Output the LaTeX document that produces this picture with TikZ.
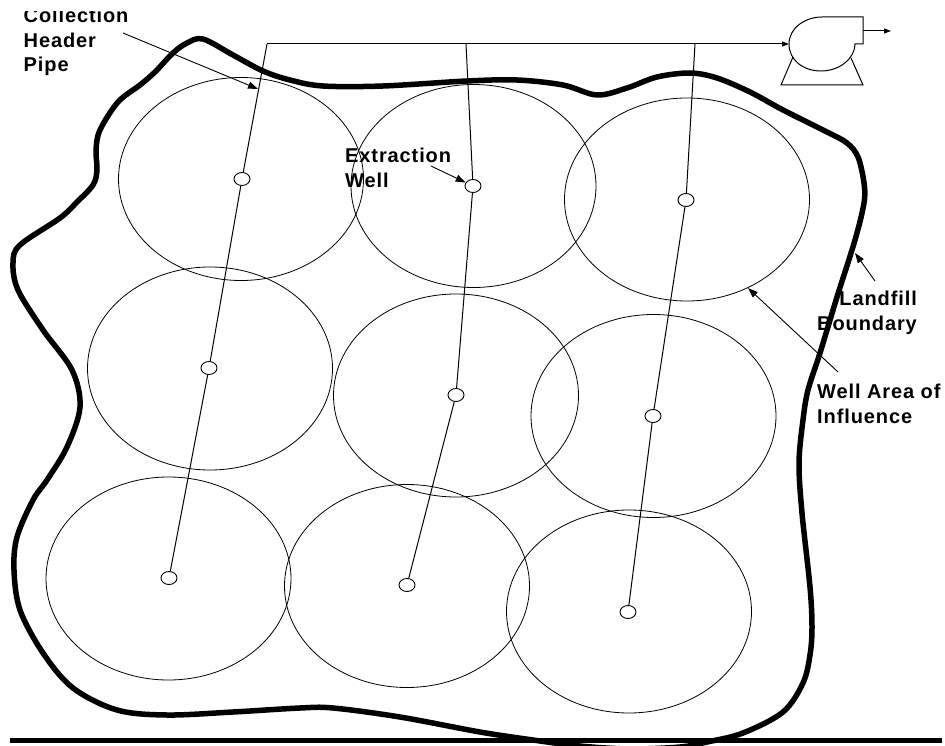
\documentclass[tikz,border=0pt]{standalone}
\usepackage{fontspec}
\setmainfont{Liberation Sans}[LetterSpace=4.5]
\usetikzlibrary{arrows.meta,shapes.geometric}
\tikzset{
  zone/.style={shape=ellipse,draw,line width=0.8pt,minimum width=245pt,minimum height=203pt,inner sep=0pt},
  wellhead/.style={shape=ellipse,draw,fill=white,line width=0.9pt,minimum width=16pt,minimum height=13pt,inner sep=0pt},
  pipe/.style={line width=1pt},
  boundary/.style={line width=5.5pt,line join=round},
  leader/.style={line width=0.9pt,-{Triangle[length=10pt,width=7pt]}},
  flow/.style={line width=1pt,-{Triangle[length=7pt,width=5pt]}},
  equip/.style={line width=1pt,line join=miter},
  lbl/.style={font=\bfseries\fontsize{20}{24.5}\selectfont,inner sep=0pt,anchor=north west,align=left}
}
\begin{document}
\begin{tikzpicture}[x=1pt,y=-1pt]
\useasboundingbox (0,0) rectangle (945,746);
\clip (0,0) rectangle (945,746);
% areas of influence
\node[zone] (z1) at (241,179) {};
\node[zone] (z2) at (473.5,186) {};
\node[zone] (z3) at (687,199.5) {};
\node[zone] (z4) at (210,368.5) {};
\node[zone] (z5) at (456,395.5) {};
\node[zone] (z6) at (653.5,416) {};
\node[zone] (z7) at (168.5,578.5) {};
\node[zone] (z8) at (407,586) {};
\node[zone] (z9) at (629,611.5) {};
% landfill boundary
\draw[boundary] plot[smooth cycle,tension=0.55] coordinates {
 (203,39) (233,55) (263,71) (290,80) (323,86) (383,86) (467,81) (517,80) (563,85) (597,95)
 (627,88) (657,77) (690,73) (717,78) (750,92) (783,110) (827,132) (847,143) (858,157) (864,183) (864,203)
 (855,240) (837,297) (820,353) (808,390) (803,420) (799,463) (802,513) (810,587) (812,627)
 (810,655) (803,683) (783,712) (743,733) (707,742) (680,747) (630,749) (580,746) (533,740)
 (480,732) (400,717) (333,708) (300,708) (233,712) (167,715) (117,710) (73,688) (43,653)
 (20,610) (14,570) (17,537) (33,500) (47,480) (67,447) (80,407) (72,370) (43,330) (18,290)
 (13,263) (20,245) (60,218) (77,202) (93,185) (97,170) (96,150) (100,130) (118,102) (140,85) (155,72) (173,53) (187,43)
};
% wells
\node[wellhead] (w1) at (242,179) {};
\node[wellhead] (w2) at (473,186) {};
\node[wellhead] (w3) at (686,200) {};
\node[wellhead] (w4) at (209,368) {};
\node[wellhead] (w5) at (456,395) {};
\node[wellhead] (w6) at (653,416) {};
\node[wellhead] (w7) at (169,578) {};
\node[wellhead] (w8) at (407,585) {};
\node[wellhead] (w9) at (628,612) {};
\coordinate (h1) at (267,44);
\coordinate (h2) at (466,44);
\coordinate (h3) at (695,44);
\coordinate (inlet) at (789,44);
\coordinate (outS) at (863,31);
\coordinate (outE) at (891,31);
% pipes
\draw[pipe] (h1) -- (w1) (w1) -- (w4) (w4) -- (w7);
\draw[pipe] (h2) -- (w2) (w2) -- (w5) (w5) -- (w8);
\draw[pipe] (h3) -- (w3) (w3) -- (w6) (w6) -- (w9);
\draw[flow] (h1) -- (inlet);
% blower
\draw[equip,fill=white] (inlet) .. controls (789,28) and (805,17) .. (822,17)
  -- (863,17) -- (863,44) -- (855,44)
  .. controls (855,58) and (840,71) .. (821,71)
  .. controls (803,71) and (789,60) .. (inlet);
\draw[equip] (793,57) -- (781,85) -- (863,85) -- (851,58);
\draw[flow] (outS) -- (outE);
% bottom rule
\fill (10,738) rectangle (942,743);
% labels
\begin{scope}
\clip (0,11.5) rectangle (945,746);
\node[lbl] (tpipe) at (23.5,8) {Collection\\Header\\Pipe};
\end{scope}
\node[lbl] (twell) at (345,148) {Extraction\\Well};
\node[lbl,align=right] (tland) at (817,291) {Landfill\\Boundary};
\node[lbl] (tarea) at (817,384) {Well Area of\\Influence};
% leaders
\coordinate (a1) at (123,33);
\coordinate (b1) at (258,89);
\coordinate (a2) at (431,166);
\coordinate (a3) at (875,281);
\coordinate (b3) at (855,253);
\coordinate (a4) at (838,372);
\coordinate (b4) at (748,288);
\draw[leader] (a1) -- (b1);
\draw[leader] (a2) -- (w2);
\draw[leader] (a3) -- (b3);
\draw[leader] (a4) -- (b4);
\end{tikzpicture}
\end{document}
